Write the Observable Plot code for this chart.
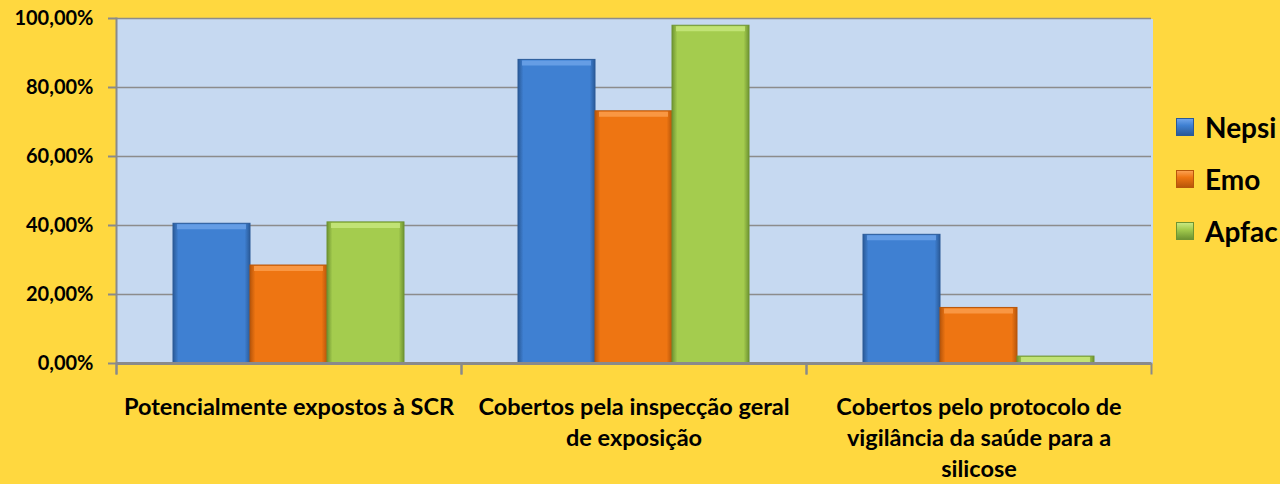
<!DOCTYPE html>
<html>
<head>
<meta charset="utf-8">
<script src="https://cdn.jsdelivr.net/npm/d3@7"></script>
<script src="https://cdn.jsdelivr.net/npm/@observablehq/plot@0.6"></script>
<style>
  html, body { margin: 0; padding: 0; background: #FFD83F; }
  #wrap { position: relative; width: 1280px; height: 484px; overflow: hidden; }
  #legend { position: absolute; left: 1176px; top: 101px; font-family: Lato, sans-serif; font-weight: bold; font-size: 28px; color: #000; }
  #legend .item { display: flex; align-items: center; height: 52px; white-space: nowrap; }
  #legend .sw { width: 18px; height: 18px; margin-right: 11px; box-sizing: border-box; flex: none; }
</style>
</head>
<body>
<div id="wrap"><div id="legend"></div></div>
<script>
const categories = [
  "Potencialmente expostos à SCR",
  "Cobertos pela inspecção geral de exposição",
  "Cobertos pelo protocolo de vigilância da saúde para a silicose"
];
const categoryLabels = [
  "Potencialmente expostos à SCR",
  "Cobertos pela inspecção geral\nde exposição",
  "Cobertos pelo protocolo de\nvigilância da saúde para a\nsilicose"
];
const series = ["Nepsi", "Emo", "Apfac"];
const nepsi = [40.5, 88.0, 37.3];
const emo = [28.4, 73.1, 16.1];
const apfac = [40.9, 97.9, 2.0];
const yTicks = [0, 20, 40, 60, 80, 100];

const seriesColors = ["#3F80D2", "#EE7512", "#A4CC4E"];
const seriesDark = ["#2A5A98", "#B8560A", "#6F9432"];
const seriesLight = ["#6FA4EA", "#FBA050", "#C8E880"];

const valuesBySeries = [nepsi, emo, apfac];
const data = [];
categories.forEach((c, i) => series.forEach((s, j) => data.push({category: c, series: s, value: valuesBySeries[j][i]})));
const labelOf = new Map(categories.map((c, i) => [c, categoryLabels[i]]));
const fmt = d => d.toFixed(2).replace(".", ",") + "%";

const chart = Plot.plot({
  width: 1280,
  height: 484,
  marginLeft: 115,
  marginRight: 128,
  marginTop: 18,
  marginBottom: 121,
  style: {background: "transparent", fontFamily: "Lato, sans-serif", color: "#000"},
  fx: {domain: categories, padding: 0},
  x: {domain: series, paddingInner: 0, paddingOuter: 0.74, axis: null},
  y: {domain: [0, 100], ticks: yTicks},
  color: {type: "ordinal", domain: series, range: series.map(s => `url(#grad-${s})`)},
  marks: [
    Plot.frame({fill: "#C6D9F1", stroke: null, insetRight: -1, shapeRendering: "crispEdges"}),
    Plot.gridY(yTicks, {stroke: "#8C8C8C", strokeOpacity: 1, strokeWidth: 1.5}),
    Plot.barY(data, {fx: "category", x: "series", y: "value", fill: "series", stroke: d => seriesDark[series.indexOf(d.series)], strokeWidth: 1}),
    Plot.tickY(data, {fx: "category", x: "series", y: "value", dy: 3, stroke: d => seriesLight[series.indexOf(d.series)], strokeWidth: 5, inset: 4, strokeOpacity: 0.8}),
    Plot.ruleY([0], {stroke: "#8A8A8A", strokeWidth: 3}),
    Plot.frame({anchor: "left", insetTop: 345, insetBottom: -10, stroke: "#8A8A8A", strokeWidth: 2}),
    Plot.frame({anchor: "right", insetTop: 345, insetBottom: -10, stroke: "#8A8A8A", strokeWidth: 2}),
    Plot.frame({anchor: "left", fx: () => categories[0], insetBottom: -10, stroke: "#8A8A8A", strokeWidth: 2}),
    Plot.axisY(yTicks, {label: null, tickSize: 8, tickPadding: 15, tickFormat: fmt, fontSize: 20, fontWeight: "bold", stroke: "#8A8A8A", strokeWidth: 2}),
    Plot.axisFx({anchor: "bottom", tickSize: 0, tickPadding: 29, label: null, tickFormat: c => labelOf.get(c), fontSize: 23.5, fontWeight: "bold", lineHeight: 1.32})
  ]
});

// gradients
const ns = "http://www.w3.org/2000/svg";
const defs = document.createElementNS(ns, "defs");
series.forEach((s, j) => {
  const g = document.createElementNS(ns, "linearGradient");
  g.setAttribute("id", `grad-${s}`);
  g.setAttribute("x1", "0"); g.setAttribute("x2", "1"); g.setAttribute("y1", "0"); g.setAttribute("y2", "0");
  [[0, seriesDark[j]], [0.07, seriesColors[j]], [0.5, seriesColors[j]], [0.93, seriesColors[j]], [1, seriesDark[j]]].forEach(([o, c]) => {
    const st = document.createElementNS(ns, "stop");
    st.setAttribute("offset", o); st.setAttribute("stop-color", c);
    g.appendChild(st);
  });
  defs.appendChild(g);
});
chart.insertBefore(defs, chart.firstChild);

document.getElementById("wrap").insertBefore(chart, document.getElementById("legend"));

const legend = document.getElementById("legend");
series.forEach((s, j) => {
  const item = document.createElement("div");
  item.className = "item";
  const sw = document.createElement("div");
  sw.className = "sw";
  sw.style.background = `linear-gradient(180deg, ${seriesLight[j]} 0%, ${seriesColors[j]} 40%, ${seriesDark[j]} 100%)`;
  sw.style.border = `1px solid ${seriesDark[j]}`;
  const t = document.createElement("span");
  t.textContent = s;
  item.appendChild(sw); item.appendChild(t);
  legend.appendChild(item);
});
</script>
</body>
</html>
